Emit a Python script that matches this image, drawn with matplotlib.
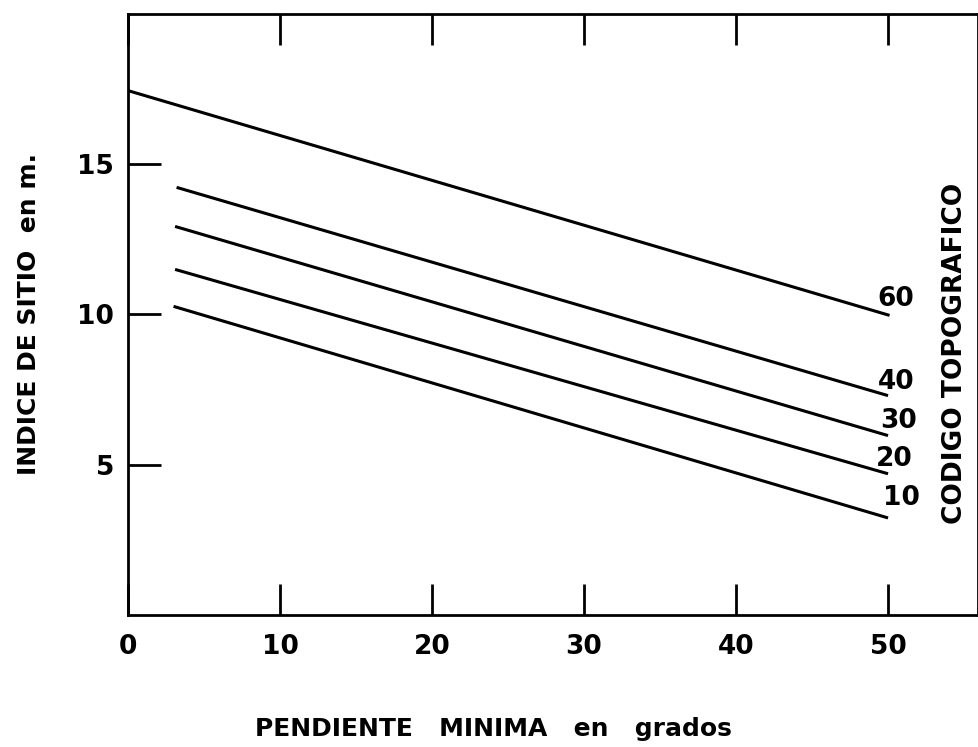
import numpy as np
import matplotlib.pyplot as plt

# codigo topografico -> (pendiente inicio, indice inicio), (pendiente fin, indice fin)
codigos = ["60", "40", "30", "20", "10"]
x_ini = [0.0, 3.2, 3.1, 3.1, 3.0]
y_ini = [17.45, 14.23, 12.93, 11.5, 10.27]
x_fin = [50.1, 50.0, 50.0, 50.0, 50.0]
y_fin = [9.97, 7.3, 5.97, 4.7, 3.23]
# posicion de las etiquetas
lab_x = [49.3, 49.3, 49.5, 49.2, 49.7]
lab_y = [10.5, 7.75, 6.45, 5.2, 3.9]

xticks = [0, 10, 20, 30, 40, 50]
yticks = [5, 10, 15]

plt.rcParams['font.family'] = ['DejaVu Sans']
fig = plt.figure(figsize=(9.79, 7.47), dpi=100)
ax = fig.add_axes([0.1307, 0.1767, 0.868, 0.8046])

for i in range(len(codigos)):
    ax.plot([x_ini[i], x_fin[i]], [y_ini[i], y_fin[i]], color='black', lw=2.2,
            solid_capstyle='butt')
    ax.text(lab_x[i], lab_y[i], codigos[i], fontsize=19, fontweight='bold',
            ha='left', va='center')

ax.set_xlim(0, 55.9)
ax.set_ylim(0, 20)
ax.set_xticks(xticks)
ax.set_yticks(yticks)
ax.set_xticklabels([str(t) for t in xticks], fontsize=19, fontweight='bold')
ax.set_yticklabels([str(t) for t in yticks], fontsize=19, fontweight='bold')
ax.tick_params(axis='x', direction='in', length=22, width=2, pad=14, top=True)
ax.tick_params(axis='y', direction='in', length=24, width=2, pad=10)
for s in ax.spines.values():
    s.set_linewidth(2)

ax.set_xlabel("PENDIENTE   MINIMA   en   grados", fontsize=18, fontweight='bold')
ax.xaxis.set_label_coords(0.43, -0.17)
ax.set_ylabel("INDICE DE SITIO  en m.", fontsize=18, fontweight='bold', labelpad=26)
ax.text(54.4, 8.7, "CODIGO TOPOGRAFICO", rotation=90, fontsize=19,
        fontweight='bold', ha='center', va='center')

fig.savefig("out.png", dpi=100)
